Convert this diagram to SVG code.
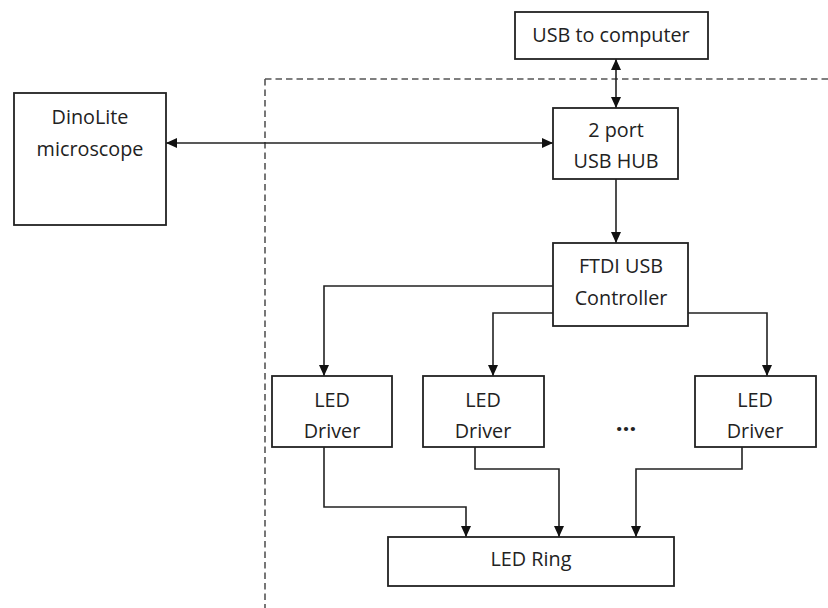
<svg xmlns="http://www.w3.org/2000/svg" width="828" height="608" viewBox="0 0 828 608">
<style>
.box{fill:#fff;stroke:#222;stroke-width:1.8}
.t{font-family:"Open Sans","Noto Sans",sans-serif;font-size:19.8px;fill:#222;text-anchor:middle}
.c{fill:none;stroke:#222;stroke-width:1.6}
.d{fill:none;stroke:#555;stroke-width:1.6;stroke-dasharray:6.5 4}
</style>
<defs>
<marker id="ah" markerWidth="11" markerHeight="10" refX="11" refY="5" orient="auto-start-reverse" markerUnits="userSpaceOnUse">
<path d="M0,0 L11,5 L0,10 Z" fill="#111"/>
</marker>
</defs>
<g id="boundary">
<path class="d" d="M265,79 H828 M265,79 V608"/>
</g>
<g id="connectors">
<path class="c" d="M616,59 V108" marker-start="url(#ah)" marker-end="url(#ah)"/>
<path class="c" d="M166,143 H553" marker-start="url(#ah)" marker-end="url(#ah)"/>
<path class="c" d="M616,179 V243" marker-end="url(#ah)"/>
<path class="c" d="M553,286 H324 V376" marker-end="url(#ah)"/>
<path class="c" d="M553,313 H493 V376" marker-end="url(#ah)"/>
<path class="c" d="M688,313 H767 V376" marker-end="url(#ah)"/>
<path class="c" d="M324,447 V507 H466 V537" marker-end="url(#ah)"/>
<path class="c" d="M475,447 V469 H559 V537" marker-end="url(#ah)"/>
<path class="c" d="M742,447 V469 H636 V537" marker-end="url(#ah)"/>
</g>
<g id="usb-computer">
<rect class="box" x="515" y="12" width="193" height="47"/>
<text class="t" x="611" y="42">USB to computer</text>
</g>
<g id="dinolite">
<rect class="box" x="14" y="93" width="152" height="132"/>
<text class="t" x="90" y="124">DinoLite</text>
<text class="t" x="90" y="156">microscope</text>
</g>
<g id="usb-hub">
<rect class="box" x="553" y="108" width="125" height="71"/>
<text class="t" x="616" y="137">2 port</text>
<text class="t" x="616" y="168">USB HUB</text>
</g>
<g id="ftdi">
<rect class="box" x="553" y="243" width="135" height="83"/>
<text class="t" x="621" y="273">FTDI USB</text>
<text class="t" x="621" y="305">Controller</text>
</g>
<g id="driver1">
<rect class="box" x="272" y="376" width="120" height="71"/>
<text class="t" x="332" y="407">LED</text>
<text class="t" x="332" y="438">Driver</text>
</g>
<g id="driver2">
<rect class="box" x="423" y="376" width="121" height="71"/>
<text class="t" x="483" y="407">LED</text>
<text class="t" x="483" y="438">Driver</text>
</g>
<g id="ellipsis">
<text class="t" x="626" y="431" style="font-size:24px;font-weight:bold">…</text>
</g>
<g id="driver3">
<rect class="box" x="695" y="376" width="121" height="71"/>
<text class="t" x="755" y="407">LED</text>
<text class="t" x="755" y="438">Driver</text>
</g>
<g id="led-ring">
<rect class="box" x="388" y="537" width="286" height="49"/>
<text class="t" x="531" y="566">LED Ring</text>
</g>
</svg>
